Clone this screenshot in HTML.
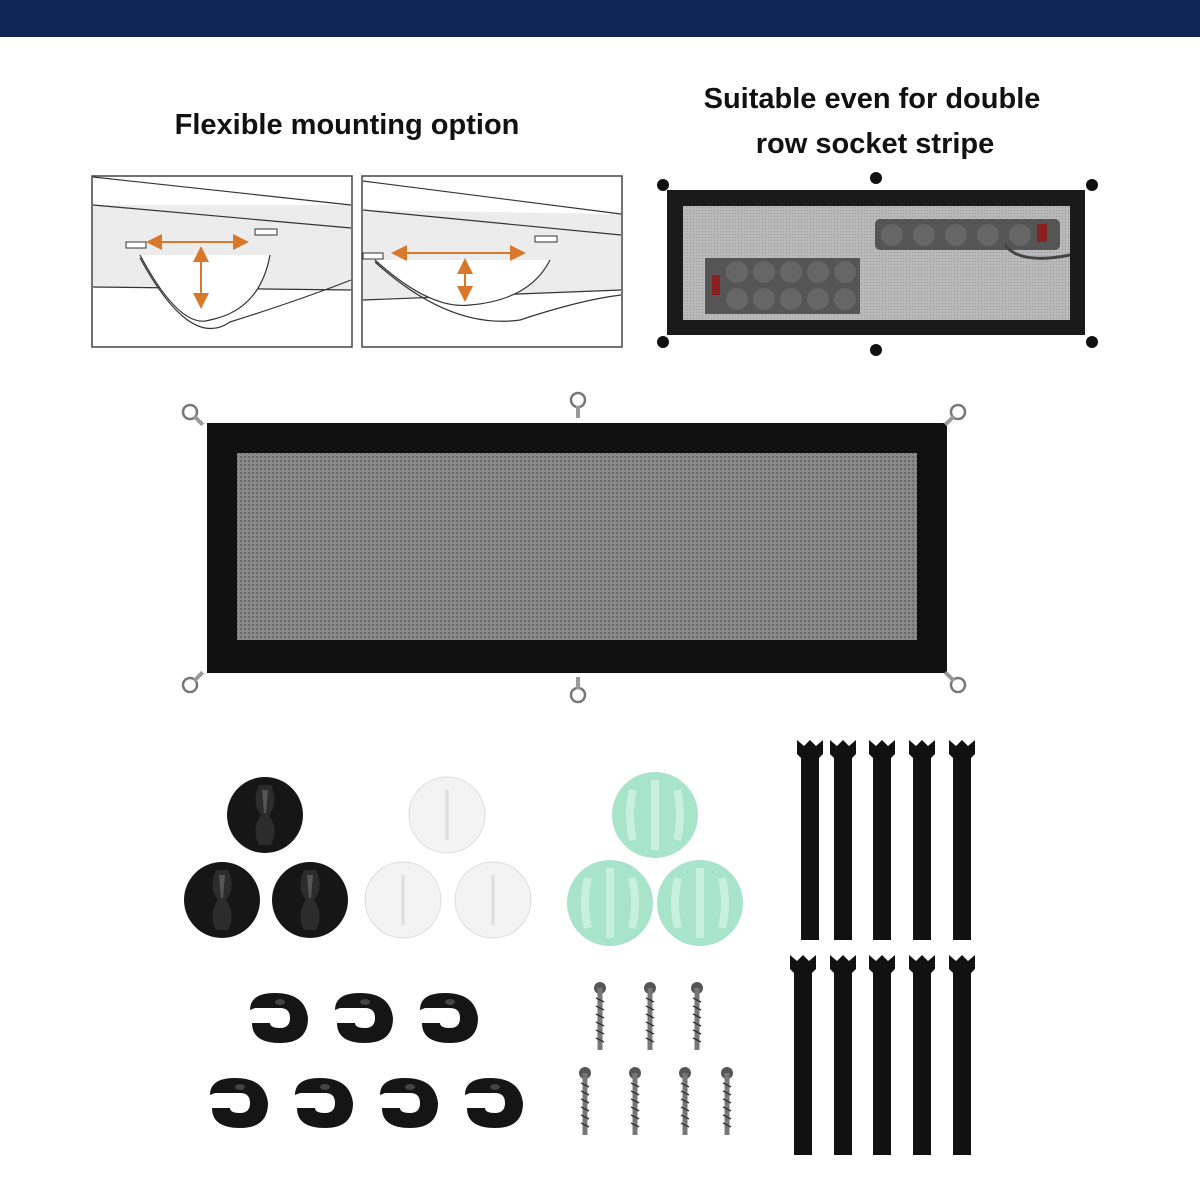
<!DOCTYPE html>
<html><head><meta charset="utf-8"><style>
html,body{margin:0;padding:0;background:#fff;}
svg{display:block;}
text{font-family:"Liberation Sans",sans-serif;font-weight:bold;fill:#111;}
</style></head><body>
<svg width="1200" height="1200" viewBox="0 0 1200 1200" xmlns="http://www.w3.org/2000/svg">
<defs>
<pattern id="mesh" width="4" height="4" patternUnits="userSpaceOnUse">
<rect width="4" height="4" fill="#8a8a8a"/><rect width="2" height="2" fill="#6a6a6a"/></pattern>
<pattern id="mesh2" width="3" height="3" patternUnits="userSpaceOnUse">
<rect width="3" height="3" fill="#b9b9b9"/><rect width="1" height="1" fill="#999"/></pattern>
<marker id="ar" markerWidth="8" markerHeight="8" refX="6" refY="4" orient="auto-start-reverse"><path d="M0,0L8,4L0,8z" fill="#d9782b"/></marker>
<g id="hookc"><circle r="7" fill="none" stroke="#777" stroke-width="2.5"/><rect x="-2" y="6" width="4" height="12" fill="#999"/></g>
<g id="bhook"><path d="M-30,-8 Q-30,-25 -5,-25 Q25,-25 28,0 Q28,25 0,25 Q-28,25 -28,5 L-10,5 Q-10,10 0,10 Q10,10 10,0 Q10,-10 0,-10 L-25,-10Z" fill="#151515"/><ellipse cx="0" cy="-16" rx="5" ry="3" fill="#444"/></g>
<g id="screw"><circle r="6" fill="#555"/><line x1="0" y1="0" x2="0" y2="62" stroke="#777" stroke-width="5"/><path d="M-4,10 L4,14 M-4,18 L4,22 M-4,26 L4,30 M-4,34 L4,38 M-4,42 L4,46 M-4,50 L4,54" stroke="#333" stroke-width="1.5"/></g>
<g id="strap"><path d="M-13,0 L-6,6 L0,0 L6,6 L13,0 L13,14 L9,18 L9,200 L-9,200 L-9,18 L-13,14Z" fill="#111"/></g>
<g id="bslot"><path d="M-6,-30 Q-14,-12 -4,0 Q-14,14 -6,30 L6,30 Q14,14 4,0 Q14,-12 6,-30Z" fill="#2c2c2c"/><path d="M-3,-25 L3,-25 L1,-2 L-1,-2Z" fill="#555"/></g>
<g id="mslot"><path d="M-22,-25 Q-28,0 -22,25 M0,-35 L0,35 M22,-25 Q28,0 22,25" stroke="#c8f0df" stroke-width="8" fill="none"/></g>
</defs>
<rect x="0" y="0" width="1200" height="37" fill="#0f2556"/>
<text x="347" y="134" font-size="29" text-anchor="middle">Flexible mounting option</text>
<text x="872" y="108" font-size="29" text-anchor="middle">Suitable even for double</text>
<text x="875" y="153" font-size="29" text-anchor="middle">row socket stripe</text>
<g>
<rect x="92" y="176" width="260" height="171" fill="#fff" stroke="#444" stroke-width="1.5"/>
<path d="M93,205 L351,205 L351,290 L93,287Z" fill="#ececec"/>
<path d="M93,177 L351,205 M93,205 L351,228 M93,287 L351,290" stroke="#333" stroke-width="1.2" fill="none"/>
<path d="M140,255 Q180,330 210,320 Q260,310 270,255" stroke="#333" stroke-width="1.2" fill="#fff"/>
<path d="M140,258 Q190,350 230,322 Q300,300 351,280" stroke="#333" stroke-width="1.2" fill="none"/>
<rect x="126" y="242" width="20" height="6" fill="#fff" stroke="#333"/>
<rect x="255" y="229" width="22" height="6" fill="#fff" stroke="#333"/>
<line x1="150" y1="242" x2="245" y2="242" stroke="#d9782b" stroke-width="2" marker-start="url(#ar)" marker-end="url(#ar)"/>
<line x1="201" y1="250" x2="201" y2="305" stroke="#d9782b" stroke-width="2" marker-start="url(#ar)" marker-end="url(#ar)"/>
</g>
<g>
<rect x="362" y="176" width="260" height="171" fill="#fff" stroke="#444" stroke-width="1.5"/>
<path d="M363,210 L621,214 L621,290 L363,300Z" fill="#ececec"/>
<path d="M363,181 L621,214 M363,210 L621,235 M363,300 L621,290" stroke="#333" stroke-width="1.2" fill="none"/>
<path d="M375,260 Q430,310 470,305 Q530,300 550,260" stroke="#333" stroke-width="1.2" fill="#fff"/>
<path d="M375,262 Q450,330 520,320 Q580,300 621,295" stroke="#333" stroke-width="1.2" fill="none"/>
<rect x="363" y="253" width="20" height="6" fill="#fff" stroke="#333"/>
<rect x="535" y="236" width="22" height="6" fill="#fff" stroke="#333"/>
<line x1="395" y1="253" x2="522" y2="253" stroke="#d9782b" stroke-width="2" marker-start="url(#ar)" marker-end="url(#ar)"/>
<line x1="465" y1="262" x2="465" y2="298" stroke="#d9782b" stroke-width="2" marker-start="url(#ar)" marker-end="url(#ar)"/>
</g>
<rect x="667" y="190" width="418" height="145" fill="#1a1a1a"/>
<rect x="683" y="206" width="387" height="114" fill="url(#mesh2)"/>
<rect x="705" y="258" width="155" height="56" fill="#555"/>
<rect x="875" y="219" width="185" height="31" rx="5" fill="#555"/>
<rect x="712" y="275" width="8" height="20" fill="#8a2020"/>
<rect x="1037" y="224" width="10" height="18" fill="#8a2020"/>
<g fill="#666"><circle cx="737" cy="272" r="11"/><circle cx="764" cy="272" r="11"/><circle cx="791" cy="272" r="11"/><circle cx="818" cy="272" r="11"/><circle cx="845" cy="272" r="11"/>
<circle cx="737" cy="299" r="11"/><circle cx="764" cy="299" r="11"/><circle cx="791" cy="299" r="11"/><circle cx="818" cy="299" r="11"/><circle cx="845" cy="299" r="11"/>
<circle cx="892" cy="235" r="11"/><circle cx="924" cy="235" r="11"/><circle cx="956" cy="235" r="11"/><circle cx="988" cy="235" r="11"/><circle cx="1020" cy="235" r="11"/></g>
<path d="M1005,245 Q1020,265 1070,255" stroke="#444" stroke-width="3" fill="none"/>
<g fill="#111"><circle cx="663" cy="185" r="6"/><circle cx="876" cy="178" r="6"/><circle cx="1092" cy="185" r="6"/><circle cx="663" cy="342" r="6"/><circle cx="876" cy="350" r="6"/><circle cx="1092" cy="342" r="6"/></g>
<rect x="207" y="423" width="740" height="250" fill="#111"/>
<rect x="237" y="453" width="680" height="187" fill="url(#mesh)"/>
<use href="#hookc" transform="translate(190,412) rotate(-45)"/>
<use href="#hookc" transform="translate(578,400)"/>
<use href="#hookc" transform="translate(958,412) rotate(45)"/>
<use href="#hookc" transform="translate(190,685) rotate(-135)"/>
<use href="#hookc" transform="translate(578,695) rotate(180)"/>
<use href="#hookc" transform="translate(958,685) rotate(135)"/>
<g fill="#161616"><circle cx="265" cy="815" r="38"/><circle cx="222" cy="900" r="38"/><circle cx="310" cy="900" r="38"/></g>
<use href="#bslot" transform="translate(265,815)"/><use href="#bslot" transform="translate(222,900)"/><use href="#bslot" transform="translate(310,900)"/>
<g fill="#f3f3f3" stroke="#ddd"><circle cx="447" cy="815" r="38"/><circle cx="403" cy="900" r="38"/><circle cx="493" cy="900" r="38"/></g>
<g stroke="#ddd" stroke-width="3"><line x1="447" y1="790" x2="447" y2="840"/><line x1="403" y1="875" x2="403" y2="925"/><line x1="493" y1="875" x2="493" y2="925"/></g>
<g fill="#a8e3cc"><circle cx="655" cy="815" r="43"/><circle cx="610" cy="903" r="43"/><circle cx="700" cy="903" r="43"/></g>
<use href="#mslot" transform="translate(655,815)"/><use href="#mslot" transform="translate(610,903)"/><use href="#mslot" transform="translate(700,903)"/>
<use href="#bhook" transform="translate(280,1018)"/><use href="#bhook" transform="translate(365,1018)"/><use href="#bhook" transform="translate(450,1018)"/>
<use href="#bhook" transform="translate(240,1103)"/><use href="#bhook" transform="translate(325,1103)"/><use href="#bhook" transform="translate(410,1103)"/><use href="#bhook" transform="translate(495,1103)"/>
<use href="#screw" transform="translate(600,988)"/><use href="#screw" transform="translate(650,988)"/><use href="#screw" transform="translate(697,988)"/>
<use href="#screw" transform="translate(585,1073)"/><use href="#screw" transform="translate(635,1073)"/><use href="#screw" transform="translate(685,1073)"/><use href="#screw" transform="translate(727,1073)"/>
<use href="#strap" transform="translate(810,740)"/><use href="#strap" transform="translate(843,740)"/><use href="#strap" transform="translate(882,740)"/><use href="#strap" transform="translate(922,740)"/><use href="#strap" transform="translate(962,740)"/>
<use href="#strap" transform="translate(803,955)"/><use href="#strap" transform="translate(843,955)"/><use href="#strap" transform="translate(882,955)"/><use href="#strap" transform="translate(922,955)"/><use href="#strap" transform="translate(962,955)"/>
</svg>
</body></html>
